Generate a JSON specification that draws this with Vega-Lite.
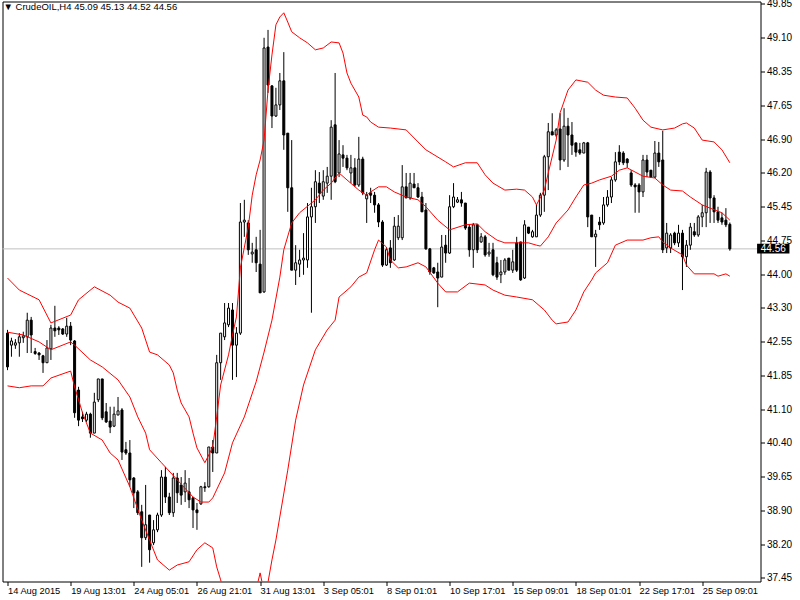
{
  "$schema": "https://vega.github.io/schema/vega-lite/v6.json",
  "width": 758,
  "height": 580,
  "autosize": {"type": "none"},
  "padding": {"left": 2.5, "top": 1.5, "right": 39.5, "bottom": 18.5},
  "background": "white",
  "title": {"text": "▼ CrudeOIL,H4  45.09 45.13 44.52 44.56", "anchor": "start", "frame": "group", "orient": "top", "baseline": "top", "offset": -13, "dx": 1, "font": "Liberation Sans", "fontSize": 9.5, "fontWeight": "normal", "color": "black"},
  "config": {"view": {"stroke": "black", "strokeWidth": 1}, "axis": {"labelOverlap": false, "labelFlush": false, "labelBound": false, "zindex": 0}},
  "datasets": {
    "bars": [
      {"i":0,"o":42.74,"h":42.81,"l":41.94,"c":42.01},
      {"i":1,"o":42.48,"h":42.64,"l":42.23,"c":42.57},
      {"i":2,"o":42.48,"h":42.61,"l":42.40,"c":42.53},
      {"i":3,"o":42.53,"h":42.74,"l":42.23,"c":42.66},
      {"i":4,"o":42.64,"h":42.77,"l":42.53,"c":42.68},
      {"i":5,"o":42.66,"h":43.18,"l":42.31,"c":43.02},
      {"i":6,"o":43.02,"h":43.09,"l":42.31,"c":42.70},
      {"i":7,"o":42.34,"h":42.42,"l":42.27,"c":42.30},
      {"i":8,"o":42.31,"h":42.33,"l":42.16,"c":42.27},
      {"i":9,"o":42.25,"h":42.27,"l":41.88,"c":42.10},
      {"i":10,"o":42.10,"h":42.59,"l":42.10,"c":42.42},
      {"i":11,"o":42.40,"h":42.92,"l":42.16,"c":42.85},
      {"i":12,"o":42.85,"h":43.33,"l":42.66,"c":42.79},
      {"i":13,"o":42.85,"h":42.89,"l":42.70,"c":42.81},
      {"i":14,"o":42.83,"h":42.85,"l":42.70,"c":42.72},
      {"i":15,"o":42.72,"h":43.07,"l":42.66,"c":42.89},
      {"i":16,"o":42.89,"h":42.98,"l":42.48,"c":42.59},
      {"i":17,"o":42.57,"h":42.59,"l":40.91,"c":41.02},
      {"i":18,"o":41.51,"h":41.58,"l":40.73,"c":40.86},
      {"i":19,"o":40.93,"h":41.04,"l":40.82,"c":40.89},
      {"i":20,"o":40.86,"h":41.04,"l":40.82,"c":40.99},
      {"i":21,"o":40.99,"h":41.02,"l":40.48,"c":40.58},
      {"i":22,"o":40.58,"h":41.45,"l":40.58,"c":41.25},
      {"i":23,"o":41.30,"h":41.75,"l":41.25,"c":41.75},
      {"i":24,"o":41.75,"h":41.75,"l":40.86,"c":40.91},
      {"i":25,"o":41.04,"h":41.23,"l":40.80,"c":40.82},
      {"i":26,"o":40.84,"h":41.15,"l":40.58,"c":40.71},
      {"i":27,"o":40.73,"h":41.15,"l":40.71,"c":40.99},
      {"i":28,"o":40.97,"h":41.36,"l":40.97,"c":41.06},
      {"i":29,"o":41.08,"h":41.12,"l":40.00,"c":40.17},
      {"i":30,"o":40.22,"h":40.39,"l":40.11,"c":40.15},
      {"i":31,"o":40.15,"h":40.43,"l":39.42,"c":39.57},
      {"i":32,"o":39.61,"h":39.63,"l":38.96,"c":39.29},
      {"i":33,"o":39.31,"h":39.35,"l":38.81,"c":38.86},
      {"i":34,"o":38.88,"h":39.03,"l":37.69,"c":38.32},
      {"i":35,"o":38.32,"h":39.46,"l":38.27,"c":38.60},
      {"i":36,"o":38.81,"h":38.81,"l":37.78,"c":38.06},
      {"i":37,"o":38.21,"h":38.70,"l":38.16,"c":38.49},
      {"i":38,"o":38.49,"h":38.86,"l":38.44,"c":38.81},
      {"i":39,"o":38.81,"h":39.78,"l":38.77,"c":39.63},
      {"i":40,"o":39.63,"h":39.85,"l":39.07,"c":39.20},
      {"i":41,"o":39.20,"h":39.29,"l":38.81,"c":38.86},
      {"i":42,"o":38.86,"h":39.72,"l":38.77,"c":39.61},
      {"i":43,"o":39.61,"h":39.72,"l":39.07,"c":39.29},
      {"i":44,"o":39.46,"h":39.63,"l":39.03,"c":39.24},
      {"i":45,"o":39.31,"h":39.78,"l":39.09,"c":39.50},
      {"i":46,"o":39.31,"h":39.61,"l":38.96,"c":39.14},
      {"i":47,"o":39.18,"h":39.20,"l":38.53,"c":38.92},
      {"i":48,"o":38.92,"h":39.07,"l":38.49,"c":38.86},
      {"i":49,"o":39.05,"h":39.44,"l":39.03,"c":39.42},
      {"i":50,"o":39.42,"h":39.52,"l":39.31,"c":39.40},
      {"i":51,"o":39.42,"h":40.28,"l":39.40,"c":40.28},
      {"i":52,"o":40.28,"h":40.43,"l":39.74,"c":40.15},
      {"i":53,"o":40.15,"h":42.27,"l":40.15,"c":42.10},
      {"i":54,"o":42.10,"h":42.74,"l":41.73,"c":42.74},
      {"i":55,"o":42.66,"h":43.39,"l":42.59,"c":42.96},
      {"i":56,"o":42.92,"h":43.39,"l":42.87,"c":43.28},
      {"i":57,"o":43.24,"h":43.39,"l":41.73,"c":42.48},
      {"i":58,"o":42.48,"h":42.87,"l":41.79,"c":42.74},
      {"i":59,"o":42.74,"h":45.55,"l":42.70,"c":45.14},
      {"i":60,"o":45.14,"h":45.62,"l":44.82,"c":45.18},
      {"i":61,"o":45.12,"h":45.18,"l":44.43,"c":44.54},
      {"i":62,"o":44.45,"h":44.69,"l":44.26,"c":44.49},
      {"i":63,"o":44.54,"h":44.82,"l":44.06,"c":44.26},
      {"i":64,"o":44.23,"h":44.97,"l":43.61,"c":43.61},
      {"i":65,"o":43.63,"h":49.12,"l":43.61,"c":48.90},
      {"i":66,"o":48.92,"h":49.29,"l":47.93,"c":48.10},
      {"i":67,"o":48.08,"h":48.10,"l":47.17,"c":47.43},
      {"i":68,"o":47.43,"h":48.04,"l":47.41,"c":47.67},
      {"i":69,"o":47.67,"h":48.36,"l":47.56,"c":48.19},
      {"i":70,"o":48.19,"h":48.81,"l":46.70,"c":47.02},
      {"i":71,"o":47.06,"h":47.06,"l":45.36,"c":45.88},
      {"i":72,"o":45.88,"h":46.91,"l":44.10,"c":44.10},
      {"i":73,"o":44.10,"h":44.64,"l":43.78,"c":44.26},
      {"i":74,"o":44.23,"h":44.54,"l":43.95,"c":44.32},
      {"i":75,"o":44.32,"h":44.90,"l":44.00,"c":44.36},
      {"i":76,"o":44.32,"h":45.55,"l":44.15,"c":45.25},
      {"i":77,"o":45.25,"h":45.88,"l":43.18,"c":45.47},
      {"i":78,"o":45.47,"h":46.26,"l":45.12,"c":46.01},
      {"i":79,"o":45.98,"h":46.22,"l":45.55,"c":45.77},
      {"i":80,"o":45.70,"h":46.26,"l":45.62,"c":46.01},
      {"i":81,"o":45.98,"h":46.33,"l":45.77,"c":46.13},
      {"i":82,"o":46.13,"h":47.34,"l":45.62,"c":47.19},
      {"i":83,"o":47.24,"h":48.36,"l":45.98,"c":46.01},
      {"i":84,"o":46.20,"h":46.91,"l":46.11,"c":46.61},
      {"i":85,"o":46.59,"h":46.80,"l":46.33,"c":46.52},
      {"i":86,"o":46.52,"h":46.59,"l":46.26,"c":46.31},
      {"i":87,"o":46.20,"h":46.59,"l":45.98,"c":46.31},
      {"i":88,"o":46.31,"h":46.52,"l":45.90,"c":45.94},
      {"i":89,"o":45.94,"h":46.98,"l":45.90,"c":46.50},
      {"i":90,"o":46.50,"h":46.55,"l":45.72,"c":45.77},
      {"i":91,"o":45.64,"h":45.79,"l":45.12,"c":45.72},
      {"i":92,"o":45.77,"h":45.88,"l":45.55,"c":45.72},
      {"i":93,"o":45.72,"h":45.79,"l":45.34,"c":45.51},
      {"i":94,"o":45.51,"h":45.55,"l":45.03,"c":45.14},
      {"i":95,"o":45.14,"h":45.18,"l":44.17,"c":44.21},
      {"i":96,"o":44.21,"h":44.60,"l":44.19,"c":44.54},
      {"i":97,"o":44.58,"h":44.75,"l":44.15,"c":44.26},
      {"i":98,"o":44.32,"h":45.25,"l":44.30,"c":45.05},
      {"i":99,"o":44.80,"h":45.29,"l":44.75,"c":45.05},
      {"i":100,"o":44.80,"h":46.37,"l":44.75,"c":45.90},
      {"i":101,"o":45.90,"h":46.20,"l":45.66,"c":45.66},
      {"i":102,"o":45.66,"h":46.20,"l":45.62,"c":45.98},
      {"i":103,"o":45.96,"h":46.20,"l":45.88,"c":45.88},
      {"i":104,"o":45.88,"h":45.98,"l":45.66,"c":45.68},
      {"i":105,"o":45.68,"h":45.79,"l":45.36,"c":45.36},
      {"i":106,"o":45.40,"h":45.55,"l":44.54,"c":44.56},
      {"i":107,"o":44.56,"h":44.58,"l":44.00,"c":44.06},
      {"i":108,"o":44.15,"h":44.17,"l":44.02,"c":44.04},
      {"i":109,"o":44.06,"h":44.26,"l":43.30,"c":43.93},
      {"i":110,"o":43.95,"h":44.86,"l":43.95,"c":44.60},
      {"i":111,"o":44.64,"h":44.86,"l":44.26,"c":44.47},
      {"i":112,"o":44.47,"h":45.72,"l":44.45,"c":45.47},
      {"i":113,"o":45.47,"h":45.98,"l":45.44,"c":45.68},
      {"i":114,"o":45.57,"h":45.68,"l":45.55,"c":45.62},
      {"i":115,"o":45.62,"h":45.79,"l":45.47,"c":45.55},
      {"i":116,"o":45.55,"h":45.55,"l":44.97,"c":45.01},
      {"i":117,"o":45.03,"h":45.08,"l":44.39,"c":44.54},
      {"i":118,"o":44.54,"h":45.12,"l":44.15,"c":45.08},
      {"i":119,"o":45.08,"h":45.08,"l":44.47,"c":44.54},
      {"i":120,"o":44.71,"h":44.90,"l":44.69,"c":44.82},
      {"i":121,"o":44.82,"h":44.86,"l":44.39,"c":44.43},
      {"i":122,"o":44.45,"h":44.69,"l":44.39,"c":44.49},
      {"i":123,"o":44.54,"h":44.69,"l":43.97,"c":44.00},
      {"i":124,"o":44.26,"h":44.39,"l":43.89,"c":43.95},
      {"i":125,"o":44.00,"h":44.32,"l":43.82,"c":44.06},
      {"i":126,"o":44.06,"h":44.36,"l":44.00,"c":44.32},
      {"i":127,"o":44.36,"h":44.36,"l":44.10,"c":44.10},
      {"i":128,"o":44.10,"h":44.54,"l":44.04,"c":44.28},
      {"i":129,"o":44.69,"h":44.82,"l":44.06,"c":44.10},
      {"i":130,"o":44.71,"h":44.71,"l":43.87,"c":43.89},
      {"i":131,"o":43.93,"h":45.18,"l":43.91,"c":45.08},
      {"i":132,"o":45.03,"h":45.03,"l":44.88,"c":44.90},
      {"i":133,"o":44.82,"h":44.97,"l":44.80,"c":44.93},
      {"i":134,"o":44.82,"h":45.51,"l":44.82,"c":45.29},
      {"i":135,"o":45.29,"h":45.77,"l":45.25,"c":45.72},
      {"i":136,"o":45.72,"h":46.59,"l":45.36,"c":46.55},
      {"i":137,"o":46.55,"h":47.28,"l":45.83,"c":47.09},
      {"i":138,"o":47.09,"h":47.49,"l":47.02,"c":47.02},
      {"i":139,"o":47.02,"h":47.17,"l":46.98,"c":47.13},
      {"i":140,"o":47.15,"h":47.49,"l":46.26,"c":46.48},
      {"i":141,"o":46.48,"h":47.60,"l":46.44,"c":47.21},
      {"i":142,"o":47.21,"h":47.39,"l":46.33,"c":47.02},
      {"i":143,"o":47.02,"h":47.30,"l":46.59,"c":46.80},
      {"i":144,"o":46.85,"h":46.85,"l":46.55,"c":46.65},
      {"i":145,"o":46.70,"h":46.85,"l":46.59,"c":46.63},
      {"i":146,"o":46.63,"h":46.87,"l":46.63,"c":46.85},
      {"i":147,"o":46.85,"h":46.87,"l":45.03,"c":45.25},
      {"i":148,"o":45.29,"h":45.29,"l":44.82,"c":44.82},
      {"i":149,"o":44.82,"h":44.97,"l":44.17,"c":44.88},
      {"i":150,"o":45.14,"h":45.25,"l":44.97,"c":45.08},
      {"i":151,"o":45.12,"h":45.68,"l":45.08,"c":45.51},
      {"i":152,"o":45.51,"h":45.83,"l":45.47,"c":45.68},
      {"i":153,"o":45.68,"h":46.11,"l":45.55,"c":46.05},
      {"i":154,"o":46.05,"h":46.65,"l":46.01,"c":46.44},
      {"i":155,"o":46.65,"h":46.80,"l":46.37,"c":46.44},
      {"i":156,"o":46.63,"h":46.67,"l":46.37,"c":46.42},
      {"i":157,"o":46.50,"h":46.52,"l":46.31,"c":46.42},
      {"i":158,"o":46.20,"h":46.26,"l":45.90,"c":45.94},
      {"i":159,"o":45.94,"h":45.98,"l":45.34,"c":45.90},
      {"i":160,"o":45.94,"h":45.98,"l":45.34,"c":45.79},
      {"i":161,"o":45.79,"h":46.59,"l":45.68,"c":46.48},
      {"i":162,"o":46.48,"h":46.59,"l":46.11,"c":46.22},
      {"i":163,"o":46.26,"h":46.26,"l":46.09,"c":46.11},
      {"i":164,"o":46.11,"h":46.89,"l":46.09,"c":46.63},
      {"i":165,"o":46.63,"h":46.87,"l":46.33,"c":46.44},
      {"i":166,"o":46.48,"h":47.11,"l":44.47,"c":44.54},
      {"i":167,"o":44.58,"h":45.12,"l":44.47,"c":44.90},
      {"i":168,"o":44.58,"h":44.90,"l":44.47,"c":44.86},
      {"i":169,"o":44.90,"h":44.93,"l":44.64,"c":44.69},
      {"i":170,"o":44.69,"h":45.08,"l":44.60,"c":44.90},
      {"i":171,"o":44.90,"h":44.97,"l":43.67,"c":44.39},
      {"i":172,"o":44.39,"h":44.75,"l":44.17,"c":44.64},
      {"i":173,"o":44.64,"h":45.12,"l":44.54,"c":45.03},
      {"i":174,"o":44.93,"h":45.12,"l":44.82,"c":44.86},
      {"i":175,"o":44.86,"h":45.29,"l":44.82,"c":45.25},
      {"i":176,"o":45.25,"h":45.51,"l":45.03,"c":45.34},
      {"i":177,"o":45.34,"h":46.31,"l":45.03,"c":46.22},
      {"i":178,"o":46.22,"h":46.26,"l":45.12,"c":45.66},
      {"i":179,"o":45.66,"h":45.72,"l":45.12,"c":45.36},
      {"i":180,"o":45.36,"h":45.47,"l":45.12,"c":45.18},
      {"i":181,"o":45.23,"h":45.34,"l":45.08,"c":45.14},
      {"i":182,"o":45.18,"h":45.44,"l":45.03,"c":45.08},
      {"i":183,"o":45.09,"h":45.13,"l":44.52,"c":44.56}
    ],
    "bands": [
      {"b":"up","i":0,"v":43.93},{"b":"up","i":3,"v":43.67},{"b":"up","i":8,"v":43.46},{"b":"up","i":11,"v":42.96},{"b":"up","i":16,"v":43.13},{"b":"up","i":18,"v":43.46},{"b":"up","i":22,"v":43.74},{"b":"up","i":26,"v":43.56},{"b":"up","i":28,"v":43.41},{"b":"up","i":31,"v":43.28},{"b":"up","i":34,"v":42.85},{"b":"up","i":36,"v":42.33},{"b":"up","i":38,"v":42.27},{"b":"up","i":41,"v":42.05},{"b":"up","i":42,"v":41.88},{"b":"up","i":43,"v":41.51},{"b":"up","i":44,"v":41.23},{"b":"up","i":46,"v":40.93},{"b":"up","i":47,"v":40.58},{"b":"up","i":48,"v":40.26},{"b":"up","i":50,"v":39.94},{"b":"up","i":52,"v":40.28},{"b":"up","i":53,"v":40.93},{"b":"up","i":54,"v":41.62},{"b":"up","i":56,"v":42.27},{"b":"up","i":57,"v":42.70},{"b":"up","i":58,"v":43.09},{"b":"up","i":59,"v":44.15},{"b":"up","i":61,"v":45.03},{"b":"up","i":62,"v":45.72},{"b":"up","i":63,"v":46.16},{"b":"up","i":64,"v":46.48},{"b":"up","i":65,"v":46.91},{"b":"up","i":66,"v":47.99},{"b":"up","i":67,"v":48.75},{"b":"up","i":68,"v":49.40},{"b":"up","i":69,"v":49.57},{"b":"up","i":70,"v":49.66},{"b":"up","i":71,"v":49.46},{"b":"up","i":72,"v":49.25},{"b":"up","i":74,"v":49.12},{"b":"up","i":76,"v":49.01},{"b":"up","i":78,"v":48.86},{"b":"up","i":80,"v":48.90},{"b":"up","i":82,"v":49.03},{"b":"up","i":84,"v":49.01},{"b":"up","i":85,"v":48.79},{"b":"up","i":86,"v":48.36},{"b":"up","i":87,"v":48.14},{"b":"up","i":89,"v":47.84},{"b":"up","i":90,"v":47.45},{"b":"up","i":91,"v":47.41},{"b":"up","i":92,"v":47.30},{"b":"up","i":94,"v":47.19},{"b":"up","i":97,"v":47.17},{"b":"up","i":101,"v":47.13},{"b":"up","i":104,"v":46.87},{"b":"up","i":106,"v":46.70},{"b":"up","i":111,"v":46.44},{"b":"up","i":113,"v":46.33},{"b":"up","i":116,"v":46.42},{"b":"up","i":119,"v":46.42},{"b":"up","i":121,"v":46.16},{"b":"up","i":123,"v":45.98},{"b":"up","i":126,"v":45.83},{"b":"up","i":129,"v":45.85},{"b":"up","i":131,"v":45.83},{"b":"up","i":133,"v":45.68},{"b":"up","i":134,"v":45.51},{"b":"up","i":136,"v":45.83},{"b":"up","i":137,"v":46.20},{"b":"up","i":139,"v":46.91},{"b":"up","i":140,"v":47.50},{"b":"up","i":142,"v":47.99},{"b":"up","i":144,"v":48.21},{"b":"up","i":147,"v":48.16},{"b":"up","i":149,"v":47.99},{"b":"up","i":151,"v":47.88},{"b":"up","i":154,"v":47.84},{"b":"up","i":157,"v":47.82},{"b":"up","i":159,"v":47.60},{"b":"up","i":161,"v":47.34},{"b":"up","i":163,"v":47.19},{"b":"up","i":166,"v":47.13},{"b":"up","i":169,"v":47.17},{"b":"up","i":171,"v":47.26},{"b":"up","i":172,"v":47.28},{"b":"up","i":174,"v":47.17},{"b":"up","i":176,"v":46.91},{"b":"up","i":179,"v":46.87},{"b":"up","i":181,"v":46.70},{"b":"up","i":183,"v":46.42},
      {"b":"mid","i":0,"v":42.76},{"b":"mid","i":4,"v":42.70},{"b":"mid","i":8,"v":42.55},{"b":"mid","i":11,"v":42.38},{"b":"mid","i":16,"v":42.55},{"b":"mid","i":17,"v":42.48},{"b":"mid","i":21,"v":42.16},{"b":"mid","i":24,"v":42.01},{"b":"mid","i":28,"v":41.73},{"b":"mid","i":31,"v":41.36},{"b":"mid","i":33,"v":40.93},{"b":"mid","i":35,"v":40.58},{"b":"mid","i":36,"v":40.22},{"b":"mid","i":39,"v":39.94},{"b":"mid","i":43,"v":39.57},{"b":"mid","i":47,"v":39.20},{"b":"mid","i":49,"v":39.09},{"b":"mid","i":51,"v":39.09},{"b":"mid","i":52,"v":39.18},{"b":"mid","i":55,"v":39.72},{"b":"mid","i":57,"v":40.37},{"b":"mid","i":60,"v":40.93},{"b":"mid","i":63,"v":41.69},{"b":"mid","i":65,"v":42.33},{"b":"mid","i":67,"v":43.02},{"b":"mid","i":69,"v":43.95},{"b":"mid","i":70,"v":44.54},{"b":"mid","i":72,"v":45.12},{"b":"mid","i":74,"v":45.34},{"b":"mid","i":78,"v":45.62},{"b":"mid","i":80,"v":45.83},{"b":"mid","i":82,"v":45.98},{"b":"mid","i":84,"v":46.20},{"b":"mid","i":86,"v":46.05},{"b":"mid","i":89,"v":45.83},{"b":"mid","i":91,"v":45.72},{"b":"mid","i":92,"v":45.79},{"b":"mid","i":94,"v":45.90},{"b":"mid","i":96,"v":45.90},{"b":"mid","i":98,"v":45.79},{"b":"mid","i":101,"v":45.68},{"b":"mid","i":104,"v":45.62},{"b":"mid","i":106,"v":45.47},{"b":"mid","i":109,"v":45.18},{"b":"mid","i":112,"v":44.97},{"b":"mid","i":116,"v":45.08},{"b":"mid","i":119,"v":45.10},{"b":"mid","i":121,"v":44.93},{"b":"mid","i":124,"v":44.75},{"b":"mid","i":126,"v":44.69},{"b":"mid","i":129,"v":44.69},{"b":"mid","i":132,"v":44.69},{"b":"mid","i":134,"v":44.64},{"b":"mid","i":135,"v":44.62},{"b":"mid","i":137,"v":44.82},{"b":"mid","i":139,"v":45.12},{"b":"mid","i":142,"v":45.40},{"b":"mid","i":144,"v":45.68},{"b":"mid","i":146,"v":45.94},{"b":"mid","i":148,"v":45.98},{"b":"mid","i":150,"v":46.05},{"b":"mid","i":153,"v":46.13},{"b":"mid","i":155,"v":46.26},{"b":"mid","i":157,"v":46.31},{"b":"mid","i":161,"v":46.13},{"b":"mid","i":164,"v":46.09},{"b":"mid","i":166,"v":45.94},{"b":"mid","i":168,"v":45.83},{"b":"mid","i":171,"v":45.81},{"b":"mid","i":173,"v":45.68},{"b":"mid","i":176,"v":45.51},{"b":"mid","i":178,"v":45.44},{"b":"mid","i":181,"v":45.34},{"b":"mid","i":183,"v":45.18},
      {"b":"lo","i":0,"v":41.60},{"b":"lo","i":3,"v":41.56},{"b":"lo","i":6,"v":41.60},{"b":"lo","i":9,"v":41.60},{"b":"lo","i":11,"v":41.77},{"b":"lo","i":16,"v":41.92},{"b":"lo","i":17,"v":41.58},{"b":"lo","i":18,"v":41.30},{"b":"lo","i":19,"v":41.02},{"b":"lo","i":21,"v":40.58},{"b":"lo","i":24,"v":40.43},{"b":"lo","i":26,"v":40.15},{"b":"lo","i":28,"v":40.00},{"b":"lo","i":31,"v":39.42},{"b":"lo","i":34,"v":38.70},{"b":"lo","i":36,"v":38.27},{"b":"lo","i":38,"v":37.84},{"b":"lo","i":41,"v":37.62},{"b":"lo","i":43,"v":37.73},{"b":"lo","i":46,"v":37.80},{"b":"lo","i":48,"v":38.06},{"b":"lo","i":50,"v":38.21},{"b":"lo","i":52,"v":38.10},{"b":"lo","i":53,"v":37.69},{"b":"lo","i":54,"v":37.41},{"b":"lo","i":56,"v":36.76},{"b":"lo","i":59,"v":36.11},{"b":"lo","i":62,"v":36.90},{"b":"lo","i":63,"v":37.20},{"b":"lo","i":64,"v":37.56},{"b":"lo","i":65,"v":37.15},{"b":"lo","i":66,"v":37.36},{"b":"lo","i":67,"v":37.84},{"b":"lo","i":68,"v":38.27},{"b":"lo","i":71,"v":39.78},{"b":"lo","i":73,"v":40.86},{"b":"lo","i":75,"v":41.62},{"b":"lo","i":78,"v":42.38},{"b":"lo","i":81,"v":42.81},{"b":"lo","i":83,"v":43.02},{"b":"lo","i":84,"v":43.52},{"b":"lo","i":87,"v":43.74},{"b":"lo","i":89,"v":43.95},{"b":"lo","i":91,"v":44.04},{"b":"lo","i":93,"v":44.54},{"b":"lo","i":94,"v":44.75},{"b":"lo","i":96,"v":44.60},{"b":"lo","i":97,"v":44.32},{"b":"lo","i":99,"v":44.15},{"b":"lo","i":101,"v":44.17},{"b":"lo","i":104,"v":44.26},{"b":"lo","i":106,"v":44.17},{"b":"lo","i":109,"v":43.82},{"b":"lo","i":111,"v":43.63},{"b":"lo","i":114,"v":43.63},{"b":"lo","i":117,"v":43.82},{"b":"lo","i":121,"v":43.78},{"b":"lo","i":123,"v":43.67},{"b":"lo","i":126,"v":43.56},{"b":"lo","i":129,"v":43.52},{"b":"lo","i":133,"v":43.46},{"b":"lo","i":136,"v":43.24},{"b":"lo","i":138,"v":43.02},{"b":"lo","i":139,"v":42.94},{"b":"lo","i":142,"v":42.98},{"b":"lo","i":144,"v":43.24},{"b":"lo","i":146,"v":43.63},{"b":"lo","i":148,"v":43.89},{"b":"lo","i":149,"v":44.04},{"b":"lo","i":152,"v":44.26},{"b":"lo","i":154,"v":44.64},{"b":"lo","i":157,"v":44.75},{"b":"lo","i":161,"v":44.75},{"b":"lo","i":163,"v":44.80},{"b":"lo","i":165,"v":44.82},{"b":"lo","i":166,"v":44.71},{"b":"lo","i":168,"v":44.58},{"b":"lo","i":171,"v":44.43},{"b":"lo","i":172,"v":44.21},{"b":"lo","i":174,"v":44.02},{"b":"lo","i":179,"v":44.02},{"b":"lo","i":180,"v":43.97},{"b":"lo","i":182,"v":44.02},{"b":"lo","i":183,"v":43.97}
    ],
    "last": [{"p": 44.56, "t": "44.56"}]
  },
  "layer": [
    {
      "data": {"name": "last"},
      "mark": {"type": "rule", "color": "#c0c0c0", "strokeWidth": 1},
      "encoding": {
        "y": {"field": "p", "type": "quantitative", "scale": {"domain": [37.374, 49.904], "nice": false, "zero": false},
          "axis": {"orient": "right", "values": [49.85,49.1206,48.3912,47.6618,46.9324,46.2029,45.4735,44.7441,44.0147,43.2853,42.5559,41.8265,41.0971,40.3676,39.6382,38.9088,38.1794,37.45],
            "tickCount": 30,
            "labelExpr": "['49.85','49.10','48.35','47.65','46.90','46.20','45.45','44.75','44.00','43.30','42.55','41.85','41.10','40.40','39.65','38.90','38.20','37.45'][round((49.85-datum.value)/0.729412)]",
            "title": null, "grid": false, "domain": false, "tickSize": 4, "tickColor": "black", "labelPadding": 2, "labelFont": "Liberation Sans", "labelFontSize": 10, "labelColor": "black", "labelFlush": false, "labelOverlap": false, "labelBound": false}}
      }
    },
    {
      "data": {"name": "bars"},
      "mark": {"type": "rule", "color": "black", "strokeWidth": 1},
      "encoding": {
        "x": {"field": "i", "type": "quantitative", "scale": {"domain": [0, 189.5], "nice": false, "zero": false},
          "axis": {"orient": "bottom", "values": [0,16,32,48,64,80,96,112,128,144,160,176],
            "tickCount": 30,
            "labelExpr": "['14 Aug 2015','19 Aug 13:01','24 Aug 05:01','26 Aug 21:01','31 Aug 13:01','3 Sep 05:01','8 Sep 01:01','10 Sep 17:01','15 Sep 09:01','18 Sep 01:01','22 Sep 17:01','25 Sep 09:01'][round(datum.value/16)]",
            "title": null, "grid": false, "domain": false, "tickSize": 4, "tickColor": "black", "labelAlign": "left", "labelBaseline": "top", "labelPadding": 1, "labelDx": 1, "labelFont": "Liberation Sans", "labelFontSize": 9.3, "labelColor": "black", "labelFlush": false, "labelOverlap": false, "labelBound": false}},
        "y": {"field": "l", "type": "quantitative"},
        "y2": {"field": "h"}
      }
    },
    {
      "data": {"name": "bars"},
      "mark": {"type": "bar", "width": 2, "stroke": "black", "strokeWidth": 1},
      "encoding": {
        "x": {"field": "i", "type": "quantitative"},
        "y": {"field": "o", "type": "quantitative"},
        "y2": {"field": "c"},
        "fill": {"condition": {"test": "datum.c >= datum.o", "value": "white"}, "value": "black"}
      }
    },
    {
      "data": {"name": "bands"},
      "mark": {"type": "line", "color": "#ff0000", "strokeWidth": 1, "clip": true},
      "encoding": {
        "x": {"field": "i", "type": "quantitative"},
        "y": {"field": "v", "type": "quantitative"},
        "detail": {"field": "b"}
      }
    },
    {
      "data": {"name": "last"},
      "mark": {"type": "rect", "color": "black"},
      "encoding": {
        "x": {"datum": 189.9},
        "x2": {"datum": 198.1},
        "y": {"datum": 44.67},
        "y2": {"datum": 44.46}
      }
    },
    {
      "data": {"name": "last"},
      "mark": {"type": "text", "color": "white", "font": "Liberation Sans", "fontSize": 10, "align": "center", "baseline": "middle", "dy": 0.5},
      "encoding": {
        "x": {"datum": 194},
        "y": {"field": "p", "type": "quantitative"},
        "text": {"field": "t"}
      }
    }
  ]
}
